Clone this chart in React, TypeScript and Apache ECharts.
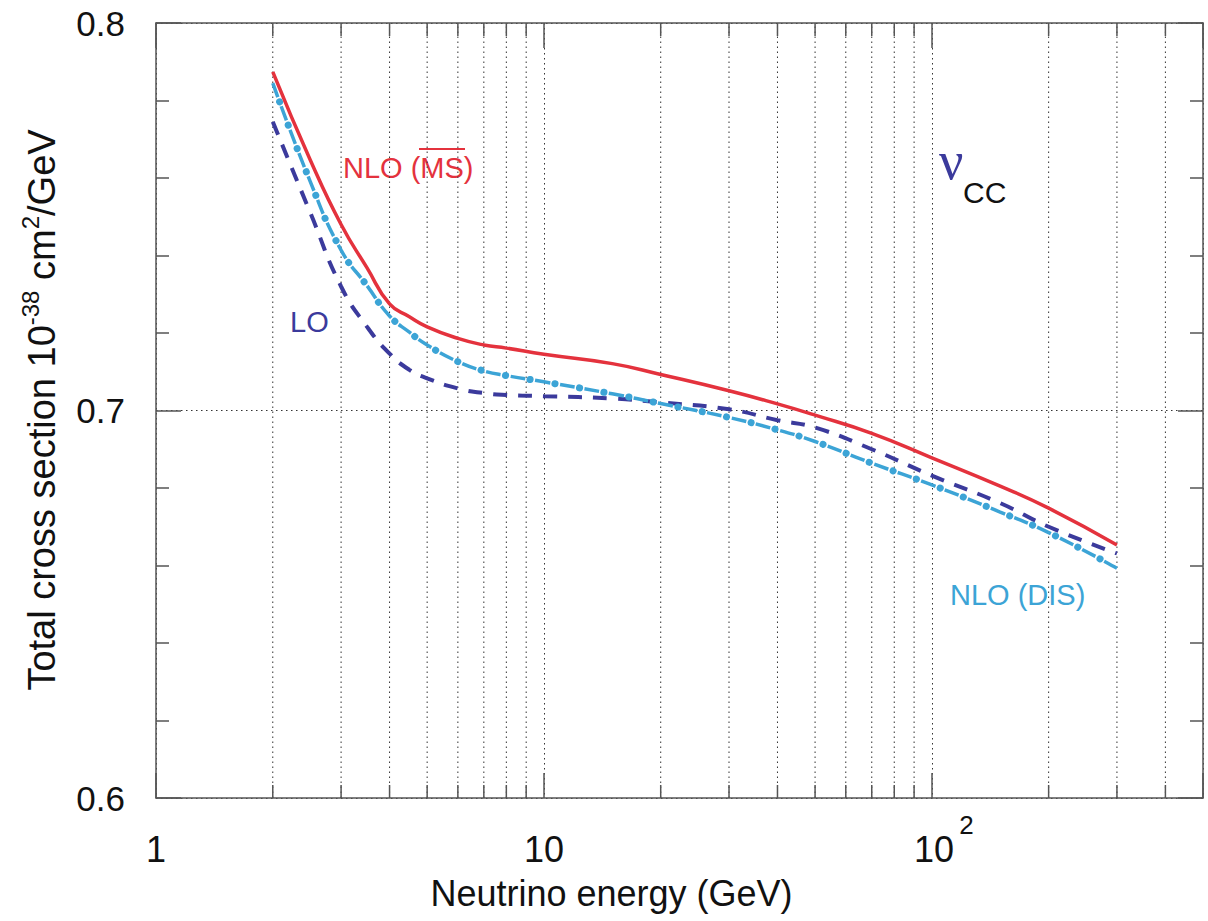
import React, { useEffect, useRef } from 'react';
import * as echarts from 'echarts';

// Neutrino energies (GeV) at which the curves were read
const energy = [2, 2.5, 3, 3.5, 4, 4.5, 5, 6, 7, 8, 10, 15, 20, 30, 40, 50, 70, 100, 150, 200, 300];
// Total cross section (10^-38 cm^2/GeV)
const nloMsbar = [0.7874, 0.7646, 0.748, 0.7368, 0.7275, 0.7242, 0.7216, 0.7186, 0.7169, 0.7161, 0.7145, 0.7121, 0.7093, 0.7051, 0.7017, 0.6988, 0.6941, 0.6878, 0.6805, 0.6748, 0.6653];
const nloDis = [0.7845, 0.759, 0.7414, 0.7322, 0.7244, 0.7202, 0.7169, 0.7126, 0.7102, 0.709, 0.7074, 0.7043, 0.7018, 0.6982, 0.695, 0.692, 0.6864, 0.6808, 0.6738, 0.6685, 0.6593];
const lo = [0.7745, 0.751, 0.732, 0.7216, 0.7147, 0.7105, 0.7083, 0.7057, 0.7045, 0.704, 0.7037, 0.7031, 0.7021, 0.7003, 0.6975, 0.6956, 0.69, 0.6832, 0.6761, 0.67, 0.6631];

// Axis ticks
const xMajorTicks = [1, 10, 100];
const xMinorGrid = [2, 3, 4, 5, 6, 7, 8, 9, 20, 30, 40, 50, 60, 70, 80, 90, 200, 300, 400];
const X_MIN = 1;
const X_MAX = 500;
const Y_MIN = 0.6;
const Y_MAX = 0.8;
const Y_INTERVAL = 0.1;

const FONT = "'Liberation Sans', Arial, Helvetica, sans-serif";
const SERIF = "'Liberation Serif', 'Times New Roman', serif";
const RED = '#e4323d';
const BLUE = '#3b3a9c';
const CYAN = '#3ca4d6';
const AXIS_COLOR = '#555';
const GRID_COLOR = '#333';
const DOTTED = [1.5, 3.5];
const MAJOR_TICK = 25;
const MINOR_TICK = 13;

export default function App() {
  const ref = useRef<HTMLDivElement>(null);

  useEffect(() => {
    document.body.style.margin = '0';
    const chart = echarts.init(ref.current as HTMLDivElement, undefined, { renderer: 'svg' });
    const pairs = (vals: number[]) => energy.map((e, i) => [e, vals[i]]);

    const axisLine = { show: true, lineStyle: { color: AXIS_COLOR, width: 1.5 } };
    const tickStyle = { color: AXIS_COLOR, width: 1.5 };

    const xLabelFormatter = (v: number) => {
      if (!xMajorTicks.some((t) => Math.abs(t - v) < 1e-6 * t)) return '';
      const exp = Math.round(Math.log10(v));
      return exp >= 2 ? `{p| }{b|10}{s|${exp}}` : `{b|${Math.round(v)}}`;
    };

    const curve = {
      type: 'line',
      symbol: 'none',
      smooth: 0.5,
      xAxisIndex: 0,
      yAxisIndex: 0,
    };

    const option: any = {
      animation: false,
      backgroundColor: '#ffffff',
      grid: { left: 156, right: 5, top: 23, bottom: 123, containLabel: false, outerBoundsMode: 'none' },
      xAxis: [
        {
          type: 'log',
          logBase: 10,
          min: X_MIN,
          max: X_MAX,
          position: 'bottom',
          axisLine,
          axisTick: { show: true, inside: true, length: MAJOR_TICK, lineStyle: tickStyle },
          axisLabel: {
            margin: 14,
            hideOverlap: false,
            showMinLabel: true,
            showMaxLabel: true,
            formatter: xLabelFormatter,
            rich: {
              b: { fontSize: 36, fontFamily: FONT, color: '#111', lineHeight: 74 },
              s: { fontSize: 26, fontFamily: FONT, color: '#111', lineHeight: 26, verticalAlign: 'top', padding: [0, 0, 0, 5] },
              p: { width: 24, fontSize: 26, lineHeight: 26 },
            },
          },
          splitLine: { show: true, lineStyle: { color: GRID_COLOR, width: 1, type: DOTTED } },
          name: 'Neutrino energy (GeV)',
          nameLocation: 'middle',
          nameGap: 77,
          nameTextStyle: { fontSize: 36, fontFamily: FONT, color: '#111', padding: [0, 136, 0, 0] },
        },
        {
          type: 'log',
          logBase: 10,
          min: X_MIN,
          max: X_MAX,
          position: 'top',
          axisLine,
          axisTick: { show: true, inside: true, length: MAJOR_TICK, lineStyle: tickStyle },
          axisLabel: { show: false },
          splitLine: { show: false },
        },
      ],
      yAxis: [
        {
          type: 'value',
          min: Y_MIN,
          max: Y_MAX,
          interval: Y_INTERVAL,
          position: 'left',
          axisLine,
          axisTick: { show: true, inside: true, length: MAJOR_TICK, lineStyle: tickStyle },
          minorTick: { show: true, splitNumber: 5, length: MINOR_TICK, lineStyle: tickStyle },
          axisLabel: {
            margin: 31,
            fontSize: 35,
            fontFamily: FONT,
            color: '#111',
            hideOverlap: false,
            formatter: (v: number) => v.toFixed(1),
          },
          splitLine: { show: true, lineStyle: { color: GRID_COLOR, width: 1, type: DOTTED } },
        },
        {
          type: 'value',
          min: Y_MIN,
          max: Y_MAX,
          interval: Y_INTERVAL,
          position: 'right',
          axisLine,
          axisTick: { show: true, inside: true, length: MAJOR_TICK, lineStyle: tickStyle },
          minorTick: { show: true, splitNumber: 5, length: MINOR_TICK, lineStyle: tickStyle },
          axisLabel: { show: false },
          splitLine: { show: false },
        },
      ],
      series: [
        {
          type: 'custom',
          name: 'grid',
          silent: true,
          z: 1,
          clip: false,
          xAxisIndex: 0,
          yAxisIndex: 0,
          data: xMinorGrid.map((v) => [v, Y_MIN]),
          encode: { x: 0, y: 1 },
          renderItem: (_params: any, api: any) => {
            const v = api.value(0);
            const b = api.coord([v, Y_MIN]);
            const t = api.coord([v, Y_MAX]);
            return {
              type: 'group',
              children: [
                { type: 'line', shape: { x1: b[0], y1: b[1], x2: t[0], y2: t[1] }, style: { stroke: GRID_COLOR, lineWidth: 1, lineDash: DOTTED } },
                { type: 'line', shape: { x1: b[0], y1: b[1], x2: b[0], y2: b[1] - MINOR_TICK }, style: { stroke: AXIS_COLOR, lineWidth: 1.5 } },
                { type: 'line', shape: { x1: t[0], y1: t[1], x2: t[0], y2: t[1] + MINOR_TICK }, style: { stroke: AXIS_COLOR, lineWidth: 1.5 } },
              ],
            };
          },
        },
        {
          ...curve,
          name: 'LO',
          data: pairs(lo),
          z: 4,
          lineStyle: { color: BLUE, width: 4, type: [14, 11] },
        },
        {
          ...curve,
          name: 'NLO (DIS)',
          data: pairs(nloDis),
          z: 4,
          lineStyle: { color: CYAN, width: 3.5, type: [15, 10] },
        },
        {
          ...curve,
          name: 'NLO (DIS) dots',
          data: pairs(nloDis),
          z: 4,
          lineStyle: { color: CYAN, width: 7, type: [0.1, 24.9], dashOffset: 5, cap: 'round' },
        },
        {
          ...curve,
          name: 'NLO (MS)',
          data: pairs(nloMsbar),
          z: 5,
          lineStyle: { color: RED, width: 3.5 },
        },
      ],
      graphic: [
        {
          type: 'text',
          x: 42,
          y: 410,
          rotation: Math.PI / 2,
          style: {
            text: '{a|Total cross section 10}{s|-38}{a| cm}{s|2}{a|/GeV}',
            align: 'center',
            verticalAlign: 'middle',
            rich: {
              a: { fontSize: 38, fontFamily: FONT, fill: '#111', lineHeight: 48 },
              s: { fontSize: 24, fontFamily: FONT, fill: '#111', lineHeight: 22, verticalAlign: 'top' },
            },
          },
        },
        {
          type: 'text',
          x: 343,
          y: 168,
          style: { text: 'NLO (MS)', fontSize: 29, fontFamily: FONT, fill: RED, verticalAlign: 'middle' },
        },
        {
          type: 'line',
          shape: { x1: 419, y1: 149, x2: 465, y2: 149 },
          style: { stroke: RED, lineWidth: 2 },
        },
        {
          type: 'text',
          x: 290,
          y: 322,
          style: { text: 'LO', fontSize: 29, fontFamily: FONT, fill: BLUE, verticalAlign: 'middle' },
        },
        {
          type: 'text',
          x: 950,
          y: 595,
          style: { text: 'NLO (DIS)', fontSize: 29, fontFamily: FONT, fill: CYAN, verticalAlign: 'middle' },
        },
        {
          type: 'text',
          x: 939,
          y: 161,
          style: { text: 'ν', fontSize: 54, fontFamily: SERIF, fill: BLUE, verticalAlign: 'middle' },
        },
        {
          type: 'text',
          x: 963,
          y: 192,
          style: { text: 'CC', fontSize: 30, fontFamily: FONT, fill: '#111', verticalAlign: 'middle' },
        },
      ],
    };

    chart.setOption(option);
    return () => chart.dispose();
  }, []);

  return <div ref={ref} style={{ width: 1208, height: 921 }} />;
}
